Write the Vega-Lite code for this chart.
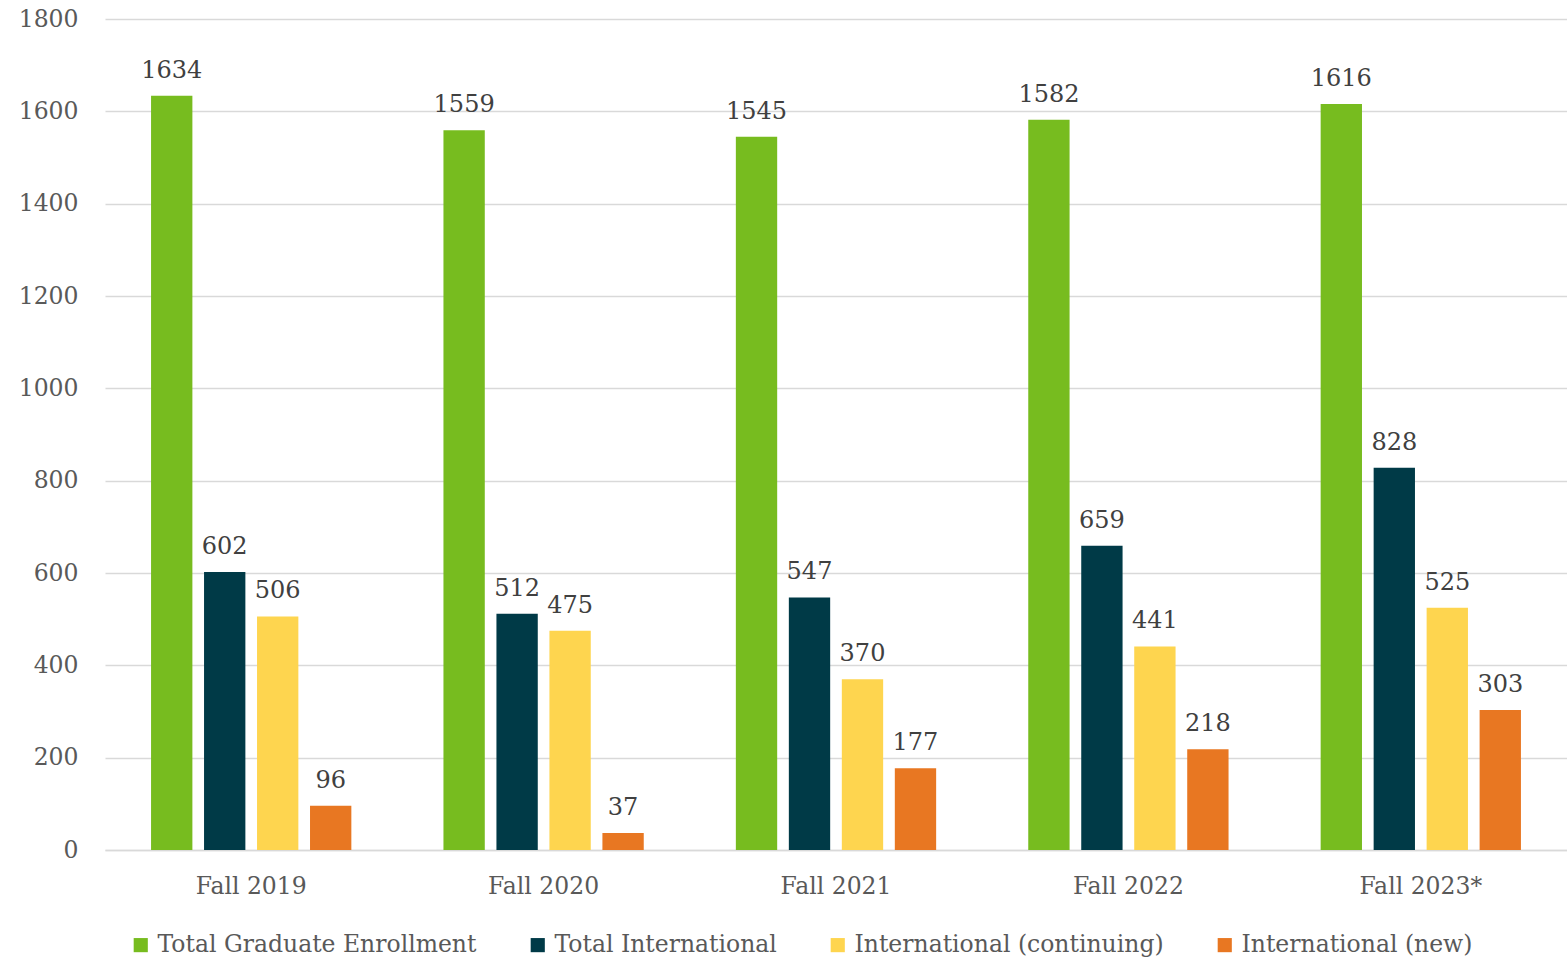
{
  "$schema": "https://vega.github.io/schema/vega-lite/v6.json",
  "width": 1462,
  "height": 831,
  "autosize": "none",
  "padding": {"left": 105, "top": 19, "right": 0, "bottom": 110},
  "background": "white",
  "config": {
    "font": "DejaVu Serif",
    "view": {"stroke": null}
  },
  "data": {
    "values": [
      {"term": "Fall 2019", "series": "Total Graduate Enrollment", "value": 1634},
      {"term": "Fall 2019", "series": "Total International", "value": 602},
      {"term": "Fall 2019", "series": "International (continuing)", "value": 506},
      {"term": "Fall 2019", "series": "International (new)", "value": 96},
      {"term": "Fall 2020", "series": "Total Graduate Enrollment", "value": 1559},
      {"term": "Fall 2020", "series": "Total International", "value": 512},
      {"term": "Fall 2020", "series": "International (continuing)", "value": 475},
      {"term": "Fall 2020", "series": "International (new)", "value": 37},
      {"term": "Fall 2021", "series": "Total Graduate Enrollment", "value": 1545},
      {"term": "Fall 2021", "series": "Total International", "value": 547},
      {"term": "Fall 2021", "series": "International (continuing)", "value": 370},
      {"term": "Fall 2021", "series": "International (new)", "value": 177},
      {"term": "Fall 2022", "series": "Total Graduate Enrollment", "value": 1582},
      {"term": "Fall 2022", "series": "Total International", "value": 659},
      {"term": "Fall 2022", "series": "International (continuing)", "value": 441},
      {"term": "Fall 2022", "series": "International (new)", "value": 218},
      {"term": "Fall 2023*", "series": "Total Graduate Enrollment", "value": 1616},
      {"term": "Fall 2023*", "series": "Total International", "value": 828},
      {"term": "Fall 2023*", "series": "International (continuing)", "value": 525},
      {"term": "Fall 2023*", "series": "International (new)", "value": 303}
    ]
  },
  "encoding": {
    "x": {
      "field": "term", "type": "nominal", "sort": null, "title": null,
      "scale": {"paddingInner": 0.315, "paddingOuter": 0.1575},
      "axis": {
        "labelAngle": 0, "labelFontSize": 23.5, "labelColor": "#595959",
        "labelPadding": 24, "ticks": false, "domainColor": "#d9d9d9", "domainWidth": 1.5
      }
    },
    "xOffset": {
      "field": "series", "type": "nominal",
      "sort": ["Total Graduate Enrollment", "Total International", "International (continuing)", "International (new)"],
      "scale": {"paddingInner": 0.22, "paddingOuter": 0}
    },
    "y": {
      "field": "value", "type": "quantitative", "title": null,
      "scale": {"domain": [0, 1800], "nice": false},
      "axis": {
        "values": [0, 200, 400, 600, 800, 1000, 1200, 1400, 1600, 1800],
        "format": "d",
        "labelFontSize": 23.5, "labelColor": "#595959", "labelPadding": 27,
        "ticks": false, "domain": false, "gridColor": "#d9d9d9", "gridWidth": 1.5
      }
    }
  },
  "layer": [
    {
      "mark": {"type": "bar"},
      "encoding": {
        "color": {
          "field": "series", "type": "nominal",
          "sort": ["Total Graduate Enrollment", "Total International", "International (continuing)", "International (new)"],
          "scale": {
            "domain": ["Total Graduate Enrollment", "Total International", "International (continuing)", "International (new)"],
            "range": ["#77BC1F", "#003A47", "#FED54F", "#E87722"]
          },
          "legend": {
            "title": null, "orient": "none", "direction": "horizontal",
            "legendX": 24, "legendY": 914,
            "symbolType": "square", "symbolSize": 200, "symbolStrokeWidth": 0,
            "labelFontSize": 23.5, "labelColor": "#595959", "labelOffset": 5,
            "columnPadding": 49, "labelLimit": 500
          }
        }
      }
    },
    {
      "mark": {"type": "text", "baseline": "bottom", "dy": -13, "fontSize": 24, "color": "#404040"},
      "encoding": {"text": {"field": "value", "type": "quantitative"}}
    }
  ]
}
